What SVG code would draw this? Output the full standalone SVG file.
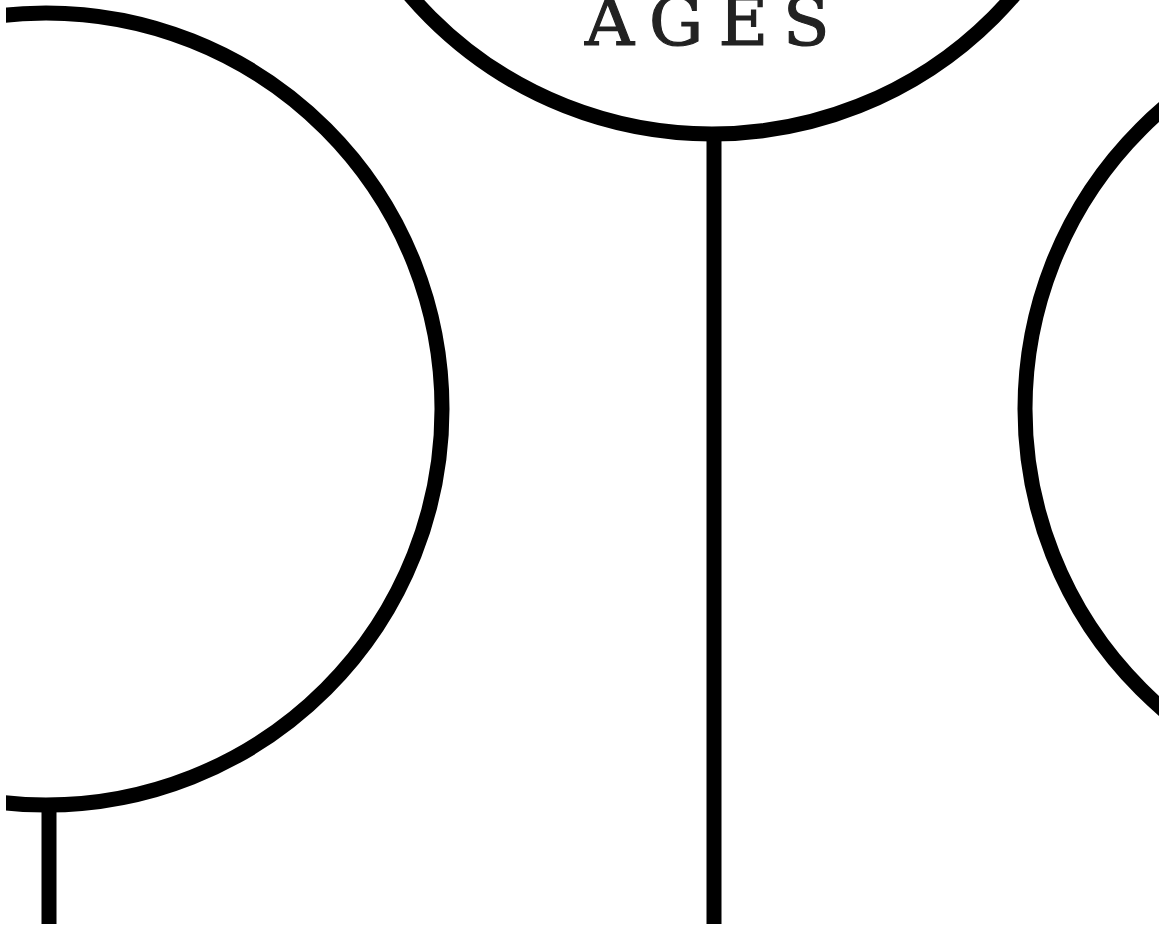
<svg xmlns="http://www.w3.org/2000/svg" width="1159" height="926" viewBox="0 0 1159 926">
  <style>
    .ring { fill: none; stroke: #000; stroke-width: 15; }
    .link { stroke: #000; stroke-width: 15; fill: none; }
    .label { font-family: "DejaVu Serif", "Liberation Serif", serif; font-size: 68px; fill: #222; stroke: #222; stroke-width: 1.2; letter-spacing: 15px; }
  </style>
  <rect x="0" y="0" width="1159" height="926" fill="#fff"/>
  <g id="connectors">
    <line class="link" x1="714" y1="134" x2="714" y2="924"/>
    <line class="link" x1="49" y1="805" x2="49" y2="924"/>
  </g>
  <g id="node-ages">
    <circle class="ring" cx="712" cy="-264" r="398"/>
    <text class="label" x="585" y="45">AGES</text>
  </g>
  <g id="node-left">
    <circle class="ring" cx="46" cy="409" r="396"/>
  </g>
  <g id="node-right">
    <circle class="ring" cx="1421" cy="409" r="396"/>
  </g>
  <rect x="0" y="0" width="6" height="926" fill="#fff"/>
</svg>
